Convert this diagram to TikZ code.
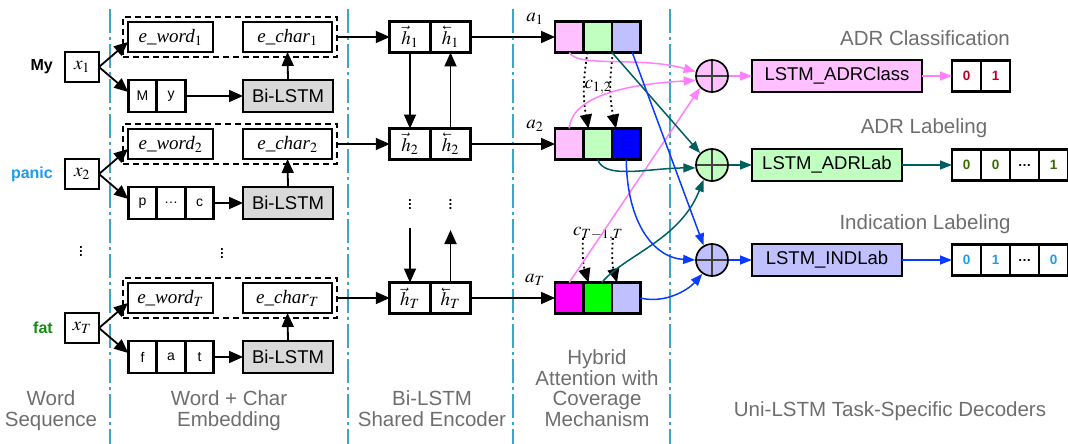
\documentclass[tikz,border=0pt]{standalone}
\usepackage{mathptmx}
\usepackage{fontspec}
\setmainfont{Liberation Sans}
\newfontfamily\tmsfont{Liberation Serif}
\usepackage{tikz}
\usetikzlibrary{arrows.meta, positioning, calc, fit}
\definecolor{sepcyan}{HTML}{3AA7C9}
\definecolor{labelgray}{HTML}{6E6E6E}
\definecolor{panicblue}{HTML}{1E9BF0}
\definecolor{fatgreen}{HTML}{178A17}
\definecolor{lstmgray}{HTML}{D9D9D9}
\definecolor{attpink}{HTML}{FFC0FF}
\definecolor{attgreen}{HTML}{C0FFC0}
\definecolor{attlav}{HTML}{C0C0FF}
\definecolor{attblue}{HTML}{0000FF}
\definecolor{attmag}{HTML}{FF00FF}
\definecolor{attlime}{HTML}{00FF00}
\definecolor{linkpink}{HTML}{FF80FF}
\definecolor{linkteal}{HTML}{006060}
\definecolor{linkblue}{HTML}{0A3CFF}
\definecolor{classred}{HTML}{B5002A}
\definecolor{labgreen}{HTML}{3A6B00}
\definecolor{indblue}{HTML}{1E9BF0}
\definecolor{crossgray}{HTML}{404040}

% backward state: small arrow pointing left over h
\newcommand{\bwd}[1]{\reflectbox{$\vec{\reflectbox{$#1$}}$}}

\tikzset{
  box/.style={draw, line width=2.8pt, inner sep=0pt, outer sep=0pt, minimum height=30pt},
  xbox/.style={box, minimum width=34pt, font=\fontsize{19}{19}\selectfont},
  ebox/.style={box, font=\fontsize{19}{19}\selectfont\tmsfont\itshape},
  chbox/.style={box, minimum width=28.5pt, minimum height=32pt, font=\fontsize{14}{14}\selectfont},
  lstmbox/.style={box, minimum height=32pt, font=\fontsize{18.5}{18.5}\selectfont},
  hcell/.style={box, minimum width=40.5pt, minimum height=31pt, font=\fontsize{19}{19}\selectfont},
  attcell/.style={box, minimum width=28.5pt, minimum height=31pt},
  outcell/.style={box, minimum width=29pt, minimum height=31pt, font=\fontsize{13.5}{13.5}\selectfont\bfseries},
  embbox/.style={draw, line width=2.8pt, dash pattern=on 6pt off 4pt, inner sep=5pt},
  oplus/.style={circle, draw, line width=1.7pt, minimum size=32pt, inner sep=0pt,
    path picture={\draw[line width=1.2pt, crossgray]
      (path picture bounding box.north) -- (path picture bounding box.south)
      (path picture bounding box.west) -- (path picture bounding box.east);}},
  arr/.style={-{Triangle[length=14pt,width=12pt]}, line width=1.8pt},
  dotarr/.style={arr, dash pattern=on 1.8pt off 3pt},
  link/.style={-{Triangle[length=12pt,width=9pt]}, line width=1.5pt},
  sepline/.style={draw=sepcyan, line width=1.3pt, dash pattern=on 24pt off 4pt on 3pt off 4pt},
  word/.style={font=\fontsize{16}{16}\selectfont\bfseries, inner sep=0pt},
  lbl/.style={font=\fontsize{20.5}{20.5}\selectfont, text=labelgray, align=center, inner sep=0pt},
  mlbl/.style={font=\fontsize{19}{19}\selectfont, inner sep=0pt}
}

\begin{document}
\begin{tikzpicture}[x=1pt, y=-1pt]
  \useasboundingbox (0,0) rectangle (1068,444);

  %% column separators
  \foreach \sx in {110,348,513,670} {
    \draw[sepline] (\sx,9) -- (\sx,444);
  }

  %% word rows: input, embedding, encoder, attention
  \foreach \i/\r/\w/\wcol/\chars/\nch/\ca/\cb/\cc in
      {1/37/My/black/{M,y}/2/attpink/attgreen/attlav,
       2/144/panic/panicblue/{p,\dots,c}/3/attpink/attgreen/attblue,
       T/298/fat/fatgreen/{f,a,t}/3/attmag/attlime/attlav} {
    \node[xbox] (x\i) at (82,\r+30) {$x_{\i}$};
    \node[word, text=\wcol, left=12pt of x\i] (w\i) {\w};

    \node[ebox, minimum width=85pt] (ew\i) at (170.5,\r) {e\_word$_{\i}$};
    \node[ebox, minimum width=89pt] (ec\i) at (287.5,\r) {e\_char$_{\i}$};
    \node[embbox, fit=(ew\i)(ec\i)] (emb\i) {};

    \foreach \ch [count=\k] in \chars {
      \node[chbox] (c\i-\k) at (114+28.5*\k,\r+59) {\ch};
    }
    \node[lstmbox, fill=lstmgray, minimum width=90pt] (bl\i) at (288,\r+59) {Bi-LSTM};

    \draw[arr] (x\i.east) -- ([yshift=-5pt]ew\i.west);
    \draw[arr] (x\i.east) -- ([yshift=4pt]c\i-1.west);
    \draw[arr] (c\i-\nch.east) -- (bl\i.west);
    \draw[arr] (bl\i.north) -- (ec\i.south);

    \node[hcell] (hf\i) at (410,\r) {$\vec{h}_{\i}$};
    \node[hcell, right=0pt of hf\i] (hb\i) {$\bwd{h}_{\i}$};
    \draw[arr] (emb\i.east) -- (hf\i.west);

    \node[attcell, fill=\ca] (a\i-1) at (569.25,\r) {};
    \node[attcell, fill=\cb, right=0pt of a\i-1] (a\i-2) {};
    \node[attcell, fill=\cc, right=0pt of a\i-2] (a\i-3) {};
    \draw[arr] (hb\i.east) -- (a\i-1.west);
    \node[mlbl] at ($(a\i-1.north west)+(-20,-3)$) {$a_{\i}$};
  }

  %% vertical dots
  \node[mlbl] at (81,248) {$\vdots$};
  \node[mlbl] at (222,250) {$\vdots$};
  \node[mlbl] at (410,201) {$\vdots$};
  \node[mlbl] at (450.5,201) {$\vdots$};

  %% encoder recurrence
  \coordinate (hdn) at (410,228);
  \coordinate (hup) at (450.5,230);
  \draw[arr] (hf1.south) -- (hf2.north);
  \draw[arr] (hb2.north) -- (hb1.south);
  \draw[arr] (hdn) -- (hfT.north);
  \draw[arr] (hbT.north) -- (hup);

  %% coverage
  \node[mlbl] (c12) at (598,87) {$c_{1,2}$};
  \node[mlbl] (cTT) at (598,234) {$c_{T-1,T}$};
  \draw[dotarr, bend right=10] ([xshift=4pt]a1-2.south west) to ([xshift=5pt]a2-2.north west);
  \draw[dotarr, bend right=10] ([xshift=1pt]a1-3.south west) to ([xshift=4pt]a2-3.north west);
  \coordinate (cs1) at (583,238);
  \coordinate (cs2) at (613,238);
  \draw[dotarr, bend right=10] (cs1) to ([xshift=5pt]aT-2.north west);
  \draw[dotarr, bend right=10] (cs2) to ([xshift=5pt]aT-3.north west);

  %% decoders
  \foreach \d/\y/\vals/\tc/\lc/\fc/\dw/\dx/\dname in
      {1/76/{0,1}/classred/linkpink/attpink/170/837/LSTM\_ADRClass,
       2/165/{0,0,{\color{black}\dots},1}/labgreen/linkteal/attgreen/150/827/LSTM\_ADRLab,
       3/260/{0,1,{\color{black}\dots},0}/indblue/linkblue/attlav/150/827/LSTM\_INDLab} {
    \node[oplus, fill=\fc] (op\d) at (712,\y) {};
    \node[lstmbox, fill=\fc, minimum width=\dw] (dec\d) at (\dx,\y) {\dname};
    \foreach \v [count=\k] in \vals {
      \node[outcell, text=\tc] (o\d-\k) at (937.5+29*\k,\y) {\v};
    }
    \draw[link, \lc] (op\d.east) -- (dec\d.west);
    \draw[link, \lc] (dec\d.east) -- (o\d-1.west);
  }

  %% attention to decoders
  \draw[link, linkpink] (a1-1.south) .. controls (578,68) and (640,56) .. (op1.165);
  \draw[link, linkpink] (a2-1.north) .. controls (572,95) and (630,84) .. (op1.195);
  \draw[link, linkpink] (aT-1.north) -- (op1.225);
  \draw[link, linkteal] (a1-3.south west) -- (op2.135);
  \draw[link, linkteal] (a2-2.south) .. controls (604,180) and (650,168) .. (op2.190);
  \draw[link, linkteal] ([xshift=4pt]aT-2.north) .. controls (625,255) and (680,240) .. (op2.240);
  \draw[link, linkblue] ([xshift=6pt]a1-3.south) -- (op3.120);
  \draw[link, linkblue] (a2-3.south) .. controls (627,225) and (655,258) .. (op3.180);
  \draw[link, linkblue] (aT-3.east) .. controls (665,304) and (688,290) .. (op3.235);

  %% task titles
  \node[lbl, anchor=base] at (925,46) {ADR Classification};
  \node[lbl, anchor=base] at (924,133) {ADR Labeling};
  \node[lbl, anchor=base] at (925,229) {Indication Labeling};

  %% column captions
  \node[lbl, anchor=base] at (51,426) {Word\\Sequence};
  \node[lbl, anchor=base] at (229,426) {Word + Char\\Embedding};
  \node[lbl, anchor=base] at (432,426) {Bi-LSTM\\Shared Encoder};
  \node[lbl, anchor=base] at (597,426) {Hybrid\\Attention with\\Coverage\\Mechanism};
  \node[lbl, anchor=base] at (890,416) {Uni-LSTM Task-Specific Decoders};
\end{tikzpicture}
\end{document}
